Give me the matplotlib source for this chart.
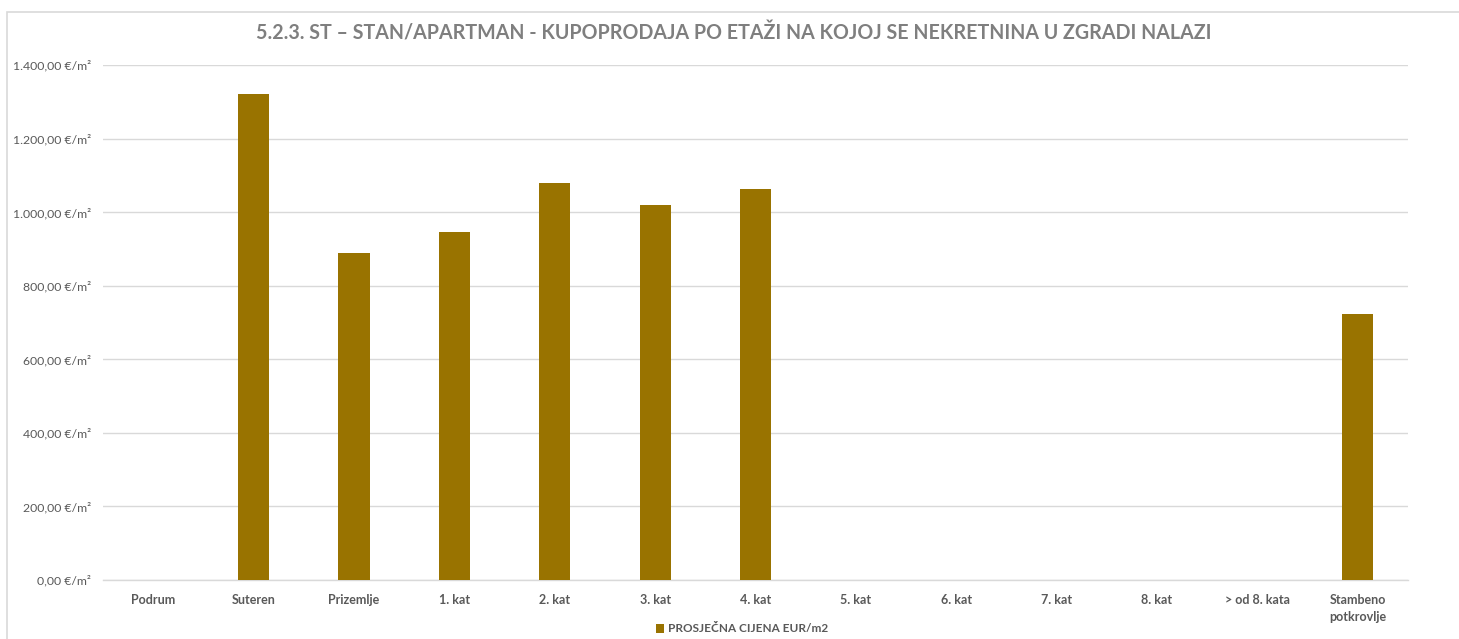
import matplotlib.pyplot as plt
from matplotlib.patches import Rectangle
from matplotlib.ticker import FuncFormatter

categories = ["Podrum", "Suteren", "Prizemlje", "1. kat", "2. kat", "3. kat",
              "4. kat", "5. kat", "6. kat", "7. kat", "8. kat", "> od 8. kata",
              "Stambeno\npotkrovlje"]
prices = [0, 1321, 889, 946, 1078, 1019, 1063, 0, 0, 0, 0, 0, 723]
yticks = [0, 200, 400, 600, 800, 1000, 1200, 1400]

BAR_COLOR = "#997300"
GRID_COLOR = "#d9d9d9"
TEXT_COLOR = "#595959"

plt.rcParams["font.family"] = ["Lato", "DejaVu Sans"]

fig = plt.figure(figsize=(14.59, 6.39), dpi=100)
ax = fig.add_axes([103 / 1459, 1 - 580 / 639, 1305 / 1459, 515 / 639])

# chart frame
fig.patches.append(Rectangle((7 / 1459, -0.1), 1.2, 1 - 12 / 639 + 0.1,
                             transform=fig.transFigure, fill=False,
                             edgecolor=GRID_COLOR, linewidth=1.2))

x = range(len(categories))
ax.bar(x, prices, width=0.31, color=BAR_COLOR, zorder=3,
       label="PROSJEČNA CIJENA EUR/m2")

ax.set_xlim(-0.5, len(categories) - 0.5)
ax.set_ylim(0, 1400)
ax.set_yticks(yticks)


def euro_fmt(v, pos):
    s = f"{v:,.2f}".replace(",", "X").replace(".", ",").replace("X", ".")
    return f"{s} €/m²"


ax.yaxis.set_major_formatter(FuncFormatter(euro_fmt))
ax.set_xticks(list(x))
ax.set_xticklabels(categories, fontweight="bold", fontsize=9, color=TEXT_COLOR,
                   va="top", linespacing=1.5)
ax.tick_params(axis="y", length=0, labelsize=8.8, labelcolor=TEXT_COLOR, pad=8.5)
ax.tick_params(axis="x", length=0, pad=10)
ax.grid(axis="y", color=GRID_COLOR, linewidth=1, zorder=0)
for side in ["top", "right", "left"]:
    ax.spines[side].set_visible(False)
ax.spines["bottom"].set_color(GRID_COLOR)
ax.spines["bottom"].set_linewidth(1)

fig.text(734 / 1459, 1 - 33 / 639,
         "5.2.3. ST – STAN/APARTMAN - KUPOPRODAJA PO ETAŽI NA KOJOJ SE NEKRETNINA U ZGRADI NALAZI",
         ha="center", va="center", fontsize=14.1, fontweight="bold",
         color="#7f7f7f")

leg = fig.legend(loc="center", bbox_to_anchor=(742 / 1459, 1 - 629 / 639),
                 frameon=False, handlelength=0.7, handleheight=0.7,
                 handletextpad=0.3, fontsize=8.5)
for t in leg.get_texts():
    t.set_color(TEXT_COLOR)
    t.set_fontweight("bold")

fig.savefig("out.png", dpi=100, facecolor="white")
